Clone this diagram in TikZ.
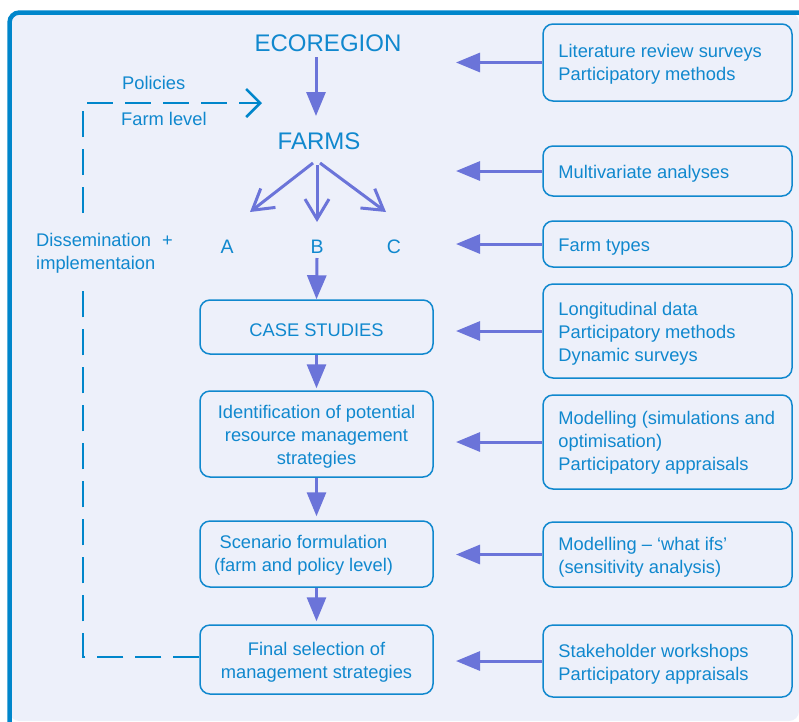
\documentclass[tikz,border=0pt]{standalone}
\usepackage{fontspec}
\setmainfont{Liberation Sans}
\usetikzlibrary{arrows.meta}
\definecolor{bgc}{HTML}{EDF0FA}
\definecolor{frameblue}{HTML}{0086CB}
\definecolor{textblue}{HTML}{1088CE}
\definecolor{arrowc}{HTML}{6B74D9}
\tikzset{
  txt/.style={text=textblue, font=\fontsize{18.3}{23}\selectfont, inner sep=0pt},
  bigtxt/.style={text=textblue, font=\fontsize{24}{28}\selectfont, inner sep=0pt},
  abctxt/.style={text=textblue, font=\fontsize{19.5}{23}\selectfont, inner sep=0pt},
  boxframe/.style={draw=textblue, line width=1.5pt, rounded corners=10pt, inner sep=0pt},
  lbox/.style={boxframe, minimum width=233pt},
  rbox/.style={boxframe, minimum width=249pt},
  ltxt/.style={txt, align=center, yshift=-3pt},
  rtxt/.style={txt, align=left, anchor=west, xshift=16pt, yshift=-3pt},
  parrow/.style={draw=arrowc, line width=3pt, -{Triangle[length=24pt,width=19pt]}},
  barbarrow/.style={draw=arrowc, line width=3pt, -{Straight Barb[length=20pt,width=24pt]}},
  dashline/.style={draw=frameblue, line width=2.5pt, dash pattern=on 26pt off 12pt},
}
\begin{document}
\begin{tikzpicture}[x=1pt,y=-1pt]
\useasboundingbox (0,0) rectangle (799,721);
\fill[white] (0,0) rectangle (799,721);
\fill[bgc, rounded corners=10pt] (9.5,721) -- (9.5,12.5) -- (799,12.5) -- (799,721) -- cycle;
\draw[frameblue, line width=4.5pt, rounded corners=10pt] (9.5,722) -- (9.5,12.5) -- (800,12.5);

% left column
\node[bigtxt] (eco) at (328,43) {ECOREGION};
\node[bigtxt] (farms) at (319,141) {FARMS};
\node[abctxt] (a) at (227,247) {A};
\node[abctxt] (b) at (317,247) {B};
\node[abctxt] (c) at (394,247) {C};
\coordinate (ecoS) at (316,57);
\coordinate (farmsN) at (316,116);
\coordinate (fl) at (313,163);
\coordinate (fm) at (317,165);
\coordinate (fr) at (320,163);
\coordinate (aN) at (250,212);
\coordinate (bN) at (317,222);
\coordinate (cN) at (386,212);
\coordinate (bS) at (317,258);

\node[lbox, minimum height=54pt] (case) at (316.5,327) {};
\node[lbox, minimum height=86pt] (ident) at (316.5,434) {};
\node[lbox, minimum height=66pt] (scen) at (316.5,554) {};
\node[lbox, minimum height=69pt] (final) at (316.5,659.5) {};
\node[ltxt] (caset) at (case.center) {CASE STUDIES};
\node[ltxt] (identt) at (ident.center) {Identification of potential\\resource management\\strategies};
\node[ltxt, xshift=-13pt, yshift=2pt] (scent) at (scen.center) {Scenario formulation\\(farm and policy level)};
\node[ltxt] (finalt) at (final.center) {Final selection of\\management strategies};

\draw[parrow] (ecoS) -- (farmsN);
\draw[barbarrow] (fl) -- (aN);
\draw[barbarrow] (fm) -- (bN);
\draw[barbarrow] (fr) -- (cN);
\draw[parrow] (bS) -- (case.north);
\draw[parrow, shorten >=2pt] (case.south) -- (ident.north);
\draw[parrow, shorten >=4pt] (ident.south) -- (scen.north);
\draw[parrow, shorten >=3pt] (scen.south) -- (final.north);

% right column
\node[rbox, minimum height=77pt] (r1) at (667.5,62.5) {};
\node[rbox, minimum height=50pt] (r2) at (667.5,171) {};
\node[rbox, minimum height=46pt] (r3) at (667.5,244) {};
\node[rbox, minimum height=94pt] (r4) at (667.5,331) {};
\node[rbox, minimum height=94pt] (r5) at (667.5,442) {};
\node[rbox, minimum height=65pt] (r6) at (667.5,554.5) {};
\node[rbox, minimum height=72pt] (r7) at (667.5,661) {};
\node[rtxt, yshift=1pt] (r1t) at (r1.west) {Literature review surveys\\Participatory methods};
\node[rtxt] (r2t) at (r2.west) {Multivariate analyses};
\node[rtxt] (r3t) at (r3.west) {Farm types};
\node[rtxt] (r4t) at (r4.west) {Longitudinal data\\Participatory methods\\Dynamic surveys};
\node[rtxt, yshift=2pt] (r5t) at (r5.west) {Modelling (simulations and\\optimisation)\\Participatory appraisals};
\node[rtxt] (r6t) at (r6.west) {Modelling -- `what ifs'\\(sensitivity analysis)};
\node[rtxt] (r7t) at (r7.west) {Stakeholder workshops\\Participatory appraisals};

\coordinate (tx) at (456,0);
\foreach \r in {r1,r2,r3,r4,r5,r6,r7}{
  \draw[parrow] (\r.west) -- (\r.west -| tx);
}

% feedback loop
\coordinate (d1) at (83,283);
\coordinate (d2) at (83,213);
\coordinate (dtip) at (262,103);
\draw[dashline] (final.west |- 0,657) -| (d1);
\draw[dashline, -{Straight Barb[length=14pt,width=28pt]}] (d2) |- (dtip);

\node[txt, anchor=west] (pol) at (122,83) {Policies};
\node[txt, anchor=west] (flev) at (121,119) {Farm level};
\node[txt, anchor=north west, align=left] (diss) at (36,233) {Dissemination\hspace{11pt}+\\implementaion};
\end{tikzpicture}
\end{document}
